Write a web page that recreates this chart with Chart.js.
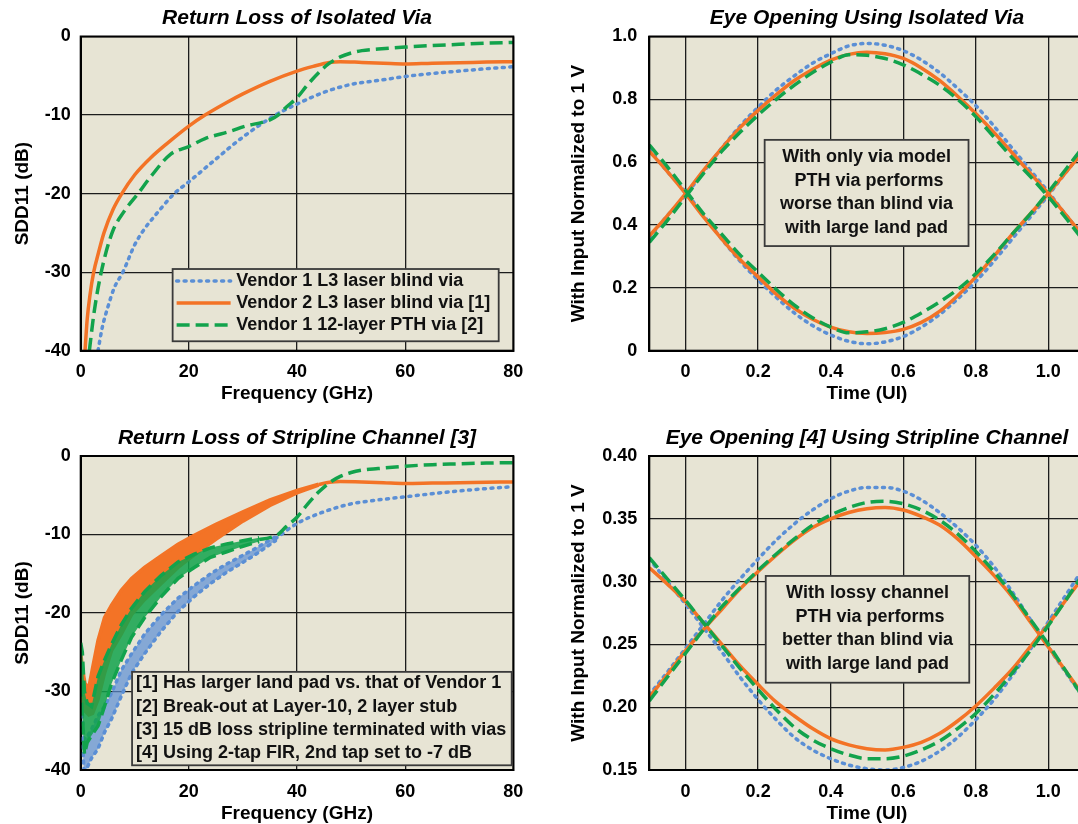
<!DOCTYPE html>
<html>
<head>
<meta charset="utf-8">
<script src="https://cdn.jsdelivr.net/npm/chart.js@4.4.0/dist/chart.umd.min.js"></script>
<style>
  html, body { margin: 0; padding: 0; background: #fff; overflow: hidden; width: 1078px; height: 824px; }
  canvas { position: absolute; }
</style>
</head>
<body>
<canvas id="rlVia" width="540" height="410" style="left:0;top:0"></canvas>
<canvas id="eyeVia" width="560" height="410" style="left:540px;top:0"></canvas>
<canvas id="rlStrip" width="540" height="420" style="left:0;top:410px"></canvas>
<canvas id="eyeStrip" width="560" height="420" style="left:540px;top:410px"></canvas>
<script>
// ---- data ----
const seriesLabels = ['Vendor 1 L3 laser blind via', 'Vendor 2 L3 laser blind via [1]', 'Vendor 1 12-layer PTH via [2]'];

// return loss, isolated via (GHz, dB)
const viaBlueF = [3.2, 4, 5, 6.2, 7.8, 10, 12, 13.5, 17.3, 20, 25, 30, 36, 40, 45, 50, 55, 60, 65, 70, 75, 80];
const viaBlueDb = [-40, -37, -34.5, -32, -30, -26.5, -24.3, -23, -20, -18.5, -15.6, -12.8, -10, -8.6, -7.1, -6.1, -5.6, -5.1, -4.7, -4.4, -4.1, -3.85];
const viaOrangeF = [0.8, 1.2, 1.7, 2.4, 3.3, 4.3, 6, 7.6, 10, 13, 16, 20, 23, 27, 30, 35, 40, 43, 46, 48, 52, 56, 60, 65, 70, 75, 80];
const viaOrangeDb = [-40, -36, -33, -30, -27.5, -25, -22, -20, -17.6, -15.4, -13.6, -11.4, -10, -8.4, -7.3, -5.7, -4.4, -3.8, -3.3, -3.2, -3.3, -3.4, -3.5, -3.4, -3.35, -3.25, -3.2];
const viaGreenF = [1.6, 2.5, 3.8, 5.8, 8, 10.6, 13, 16.6, 20, 23, 28, 30, 35, 36.5, 38, 40, 42, 44, 46, 48, 50, 52, 55, 60, 65, 70, 75, 80];
const viaGreenDb = [-40, -35, -30, -25, -22.3, -20, -17.8, -15, -14, -13, -12, -11.5, -10.6, -10, -9, -7.8, -6.1, -4.6, -3.4, -2.6, -2.1, -1.8, -1.6, -1.35, -1.15, -1.0, -0.85, -0.75];

// return loss, stripline channel: ripple envelopes at low frequency, then the smooth part
const stripOrangeBandF = [0, 0.3, 0.8, 1.5, 2.2, 3.2, 4.4, 5.7, 7.5, 9.4, 11.8, 14.9, 18, 21, 25, 30, 35, 40, 44];
const stripOrangeHi = [-25, -27, -29, -29.5, -27, -23.5, -20.6, -19, -17.1, -15.6, -14.2, -12.7, -11.25, -10.1, -8.7, -7.1, -5.6, -4.4, -3.6];
const stripOrangeLo = [-30, -31.5, -32.5, -33, -32.8, -31, -27.7, -24.8, -22.7, -20.2, -18.3, -16.25, -14.2, -12.6, -10.6, -8.3, -6.3, -4.7, -3.7];
const stripOrangeF = [44, 46, 48, 52, 56, 60, 65, 70, 75, 80];
const stripOrangeDb = [-3.65, -3.35, -3.25, -3.3, -3.4, -3.5, -3.45, -3.4, -3.35, -3.3];

const stripGreenBandF = [0, 0.3, 0.7, 1.2, 2, 3.2, 4.4, 5.7, 7.5, 9.4, 11.8, 14.9, 18, 21, 24, 27, 30, 33];
const stripGreenHi = [-23.8, -25, -30, -31.5, -31.9, -28.1, -26, -24, -21.5, -19.4, -17.3, -15.2, -13.5, -12.5, -11.7, -11.2, -10.8, -10.4];
const stripGreenLo = [-29, -33, -38, -36.5, -35.6, -34.4, -31.9, -29, -26, -23.1, -20.6, -17.9, -15.6, -14.2, -12.9, -12.2, -11.5, -10.9];
const stripGreenF = [33, 35, 36.5, 38, 40, 42, 44, 46, 48, 50, 52, 55, 60, 65, 70, 75, 80];
const stripGreenDb = [-10.65, -10.4, -10, -9, -7.8, -6.1, -4.6, -3.4, -2.6, -2.1, -1.8, -1.6, -1.3, -1.1, -1.0, -0.9, -0.85];

const stripBlueBandF = [0.3, 0.6, 1, 2, 3.2, 4.4, 5.7, 7.5, 9.4, 11.8, 14.9, 18, 21, 24, 27, 32, 36];
const stripBlueHi = [-33, -36, -36, -34.8, -33.1, -31.9, -30.2, -27.3, -25.2, -22.7, -20.2, -18.1, -16.5, -15, -13.75, -11.9, -10.3];
const stripBlueLo = [-36, -40, -40, -38.5, -37.3, -35.2, -33.5, -30.6, -27.7, -25.2, -22.3, -19.8, -17.9, -16.25, -14.8, -12.7, -10.8];
const stripBlueF = [36, 40, 45, 50, 55, 60, 65, 70, 75, 80];
const stripBlueDb = [-10.55, -8.6, -7.1, -6.1, -5.6, -5.2, -4.8, -4.45, -4.15, -3.9];

// eye diagrams (UI, V): rising/falling traces
const eyeT = [-0.1, -0.05, 0, 0.05, 0.1, 0.15, 0.2, 0.25, 0.3, 0.35, 0.4, 0.45, 0.5, 0.55, 0.6, 0.65, 0.7, 0.75, 0.8, 0.85, 0.9, 0.95, 1.0, 1.05, 1.1];

const eyeViaOrangeUp = [0.365, 0.43, 0.50, 0.575, 0.645, 0.71, 0.765, 0.815, 0.86, 0.895, 0.925, 0.943, 0.95, 0.945, 0.93, 0.90, 0.86, 0.81, 0.755, 0.695, 0.63, 0.565, 0.50, 0.43, 0.36];
const eyeViaOrangeDn = [0.635, 0.57, 0.50, 0.425, 0.355, 0.29, 0.235, 0.18, 0.135, 0.10, 0.075, 0.06, 0.055, 0.058, 0.068, 0.09, 0.125, 0.175, 0.235, 0.30, 0.37, 0.435, 0.50, 0.57, 0.64];
const eyeViaBlueUp = [0.36, 0.43, 0.495, 0.57, 0.645, 0.715, 0.775, 0.83, 0.875, 0.915, 0.945, 0.97, 0.978, 0.972, 0.955, 0.925, 0.885, 0.835, 0.78, 0.715, 0.645, 0.575, 0.505, 0.43, 0.36];
const eyeViaBlueDn = [0.64, 0.57, 0.505, 0.43, 0.355, 0.285, 0.225, 0.17, 0.12, 0.08, 0.05, 0.03, 0.022, 0.028, 0.045, 0.075, 0.115, 0.165, 0.22, 0.285, 0.355, 0.425, 0.495, 0.57, 0.64];
const eyeViaGreenUp = [0.345, 0.415, 0.49, 0.565, 0.635, 0.695, 0.75, 0.80, 0.845, 0.885, 0.918, 0.942, 0.94, 0.93, 0.91, 0.88, 0.845, 0.80, 0.745, 0.68, 0.615, 0.555, 0.49, 0.42, 0.345];
const eyeViaGreenDn = [0.655, 0.585, 0.51, 0.435, 0.37, 0.305, 0.25, 0.195, 0.145, 0.105, 0.075, 0.057, 0.06, 0.07, 0.09, 0.12, 0.155, 0.195, 0.245, 0.305, 0.37, 0.435, 0.505, 0.58, 0.655];

const eyeStripOrangeUp = [0.208, 0.226, 0.245, 0.262, 0.278, 0.294, 0.308, 0.321, 0.333, 0.343, 0.350, 0.355, 0.358, 0.359, 0.357, 0.352, 0.345, 0.334, 0.320, 0.305, 0.288, 0.268, 0.248, 0.228, 0.208];
const eyeStripOrangeDn = [0.311, 0.298, 0.284, 0.267, 0.250, 0.233, 0.218, 0.204, 0.193, 0.183, 0.175, 0.170, 0.167, 0.166, 0.168, 0.172, 0.179, 0.189, 0.201, 0.215, 0.230, 0.248, 0.266, 0.286, 0.305];
const eyeStripBlueUp = [0.21, 0.228, 0.247, 0.266, 0.285, 0.302, 0.318, 0.333, 0.346, 0.357, 0.366, 0.372, 0.375, 0.375, 0.372, 0.365, 0.355, 0.343, 0.329, 0.312, 0.292, 0.27, 0.248, 0.227, 0.206];
const eyeStripBlueDn = [0.318, 0.3, 0.282, 0.263, 0.244, 0.224, 0.206, 0.19, 0.176, 0.166, 0.159, 0.154, 0.151, 0.150, 0.152, 0.157, 0.165, 0.176, 0.19, 0.206, 0.225, 0.246, 0.268, 0.29, 0.312];
const eyeStripGreenUp = [0.205, 0.224, 0.243, 0.262, 0.28, 0.295, 0.309, 0.322, 0.334, 0.345, 0.353, 0.359, 0.363, 0.364, 0.362, 0.357, 0.349, 0.338, 0.324, 0.308, 0.29, 0.27, 0.25, 0.228, 0.206];
const eyeStripGreenDn = [0.319, 0.302, 0.285, 0.267, 0.249, 0.231, 0.214, 0.198, 0.184, 0.174, 0.167, 0.162, 0.159, 0.159, 0.161, 0.166, 0.173, 0.183, 0.195, 0.21, 0.227, 0.245, 0.265, 0.286, 0.308];

// ticks
const rlTicksX = [0, 20, 40, 60, 80];
const rlTickLabelsX = ['0', '20', '40', '60', '80'];
const rlTicksY = [-40, -30, -20, -10, 0];
const rlTickLabelsY = ['-40', '-30', '-20', '-10', '0'];
const eyeTicksX = [0, 0.2, 0.4, 0.6, 0.8, 1.0];
const eyeTickLabelsX = ['0', '0.2', '0.4', '0.6', '0.8', '1.0'];
const eyeViaTicksY = [0, 0.2, 0.4, 0.6, 0.8, 1.0];
const eyeViaTickLabelsY = ['0', '0.2', '0.4', '0.6', '0.8', '1.0'];
const eyeStripTicksY = [0.15, 0.20, 0.25, 0.30, 0.35, 0.40];
const eyeStripTickLabelsY = ['0.15', '0.20', '0.25', '0.30', '0.35', '0.40'];

// text blocks
const stripNotes = ['[1] Has larger land pad vs. that of Vendor 1', '[2] Break-out at Layer-10, 2 layer stub', '[3] 15 dB loss stripline terminated with vias', '[4] Using 2-tap FIR, 2nd tap set to -7 dB'];
const viaEyeNote = ['With only via model', ' PTH via performs', 'worse than blind via', 'with large land pad'];
const stripEyeNote = ['With lossy channel', ' PTH via performs', 'better than blind via', 'with large land pad'];

// ---- styling ----
const FONT = '"Liberation Sans", Arial, Helvetica, sans-serif';
const BG = '#e7e4d4';
Chart.defaults.font.family = FONT;
Chart.defaults.font.weight = 'bold';
Chart.defaults.color = '#000';

const BLUE = '#5b8fd5', ORANGE = '#f37326', GREEN = '#12a34c';
const blueStyle = { borderColor: BLUE, borderWidth: 3.5, borderDash: [2, 5.5], borderCapStyle: 'round', order: 2 };
const orangeStyle = { borderColor: ORANGE, borderWidth: 3.5, borderDash: [], order: 1 };
const greenStyle = { borderColor: GREEN, borderWidth: 3.5, borderDash: [13, 6], order: 0 };

const pts = (xs, ys) => xs.map((x, i) => ({ x: x, y: ys[i] }));

function line(label, xs, ys, style, extra) {
  return Object.assign({
    label: label, data: pts(xs, ys), pointRadius: 0, fill: false,
    cubicInterpolationMode: 'monotone'
  }, style, extra || {});
}

function scales(o) {
  return {
    x: {
      type: 'linear', min: o.xmin, max: o.xmax,
      afterBuildTicks: s => { s.ticks = o.xt.map(v => ({ value: v })); },
      afterFit: s => { s.height = o.xh; },
      grid: { color: '#1c1c1c', lineWidth: 1.3, drawTicks: false },
      border: { color: '#000', width: 2 },
      ticks: { padding: 11, autoSkip: false, maxRotation: 0, color: '#000', font: { size: 18, weight: 'bold' }, callback: (v, i) => o.xl[i] },
      title: { display: true, text: o.xTitle, color: '#000', font: { size: 19, weight: 'bold' }, padding: 4.6 }
    },
    y: {
      type: 'linear', min: o.ymin, max: o.ymax,
      afterBuildTicks: s => { s.ticks = o.yt.map(v => ({ value: v })); },
      afterFit: s => { s.width = o.yw; },
      grid: { color: '#1c1c1c', lineWidth: 1.3, drawTicks: false },
      border: { color: '#000', width: 2 },
      ticks: { padding: o.ypad, autoSkip: false, color: '#000', font: { size: 18, weight: 'bold' }, callback: (v, i) => o.yl[i] },
      title: { display: true, text: o.yTitle, color: '#000', font: { size: 19, weight: 'bold' }, padding: o.ytp }
    }
  };
}

function titleOpts(text, top, bottom) {
  return { display: true, text: text, fullSize: false, color: '#000', font: { size: 21, weight: 'bold', style: 'italic' }, padding: { top: top, bottom: bottom } };
}

// plot background and frame
const framePlugin = {
  id: 'frame',
  beforeDraw(chart) {
    const a = chart.chartArea, ctx = chart.ctx;
    ctx.save();
    ctx.fillStyle = BG;
    ctx.fillRect(a.left, a.top, a.right - a.left, a.bottom - a.top);
    ctx.restore();
  },
  afterDatasetsDraw(chart) {
    const a = chart.chartArea, ctx = chart.ctx;
    ctx.save();
    ctx.strokeStyle = '#000';
    ctx.lineWidth = 2;
    ctx.strokeRect(a.left, a.top, a.right - a.left, a.bottom - a.top);
    ctx.restore();
  }
};

// boxed text (legend / notes), anchored in data coordinates
function boxPlugin(cfg) {
  return {
    id: 'noteBox',
    afterDraw(chart) {
      const ctx = chart.ctx, sx = chart.scales.x, sy = chart.scales.y;
      const l = sx.getPixelForValue(cfg.x0), r = sx.getPixelForValue(cfg.x1);
      const t = sy.getPixelForValue(cfg.y0), b = sy.getPixelForValue(cfg.y1);
      ctx.save();
      ctx.setLineDash([]);
      ctx.fillStyle = BG;
      ctx.fillRect(l, t, r - l, b - t);
      ctx.strokeStyle = '#3a3a3a';
      ctx.lineWidth = 1.8;
      ctx.strokeRect(l, t, r - l, b - t);
      ctx.font = 'bold 18px ' + FONT;
      ctx.textBaseline = 'middle';
      cfg.lines.forEach((txt, i) => {
        const ty = t + cfg.first + i * cfg.step;
        if (cfg.samples) {
          const ds = chart.data.datasets[cfg.samples[i]];
          ctx.save();
          ctx.strokeStyle = ds.borderColor;
          ctx.lineWidth = ds.borderWidth;
          ctx.lineCap = ds.borderCapStyle || 'butt';
          ctx.setLineDash(ds.borderDash || []);
          ctx.beginPath();
          ctx.moveTo(l + 4, ty);
          ctx.lineTo(l + 58, ty);
          ctx.stroke();
          ctx.restore();
        }
        ctx.fillStyle = '#111';
        if (cfg.align === 'center') {
          ctx.textAlign = 'center';
          ctx.fillText(txt, (l + r) / 2, ty);
        } else {
          ctx.textAlign = 'left';
          ctx.fillText(txt, l + cfg.textX, ty);
        }
      });
      ctx.restore();
    }
  };
}

const common = {
  responsive: false, animation: false, devicePixelRatio: 1,
  plugins: { legend: { display: false }, tooltip: { enabled: false } }
};

// ---- top left: return loss of isolated via ----
new Chart(document.getElementById('rlVia'), {
  type: 'line',
  data: {
    datasets: [
      line(seriesLabels[0], viaBlueF, viaBlueDb, blueStyle),
      line(seriesLabels[1], viaOrangeF, viaOrangeDb, orangeStyle),
      line(seriesLabels[2], viaGreenF, viaGreenDb, greenStyle)
    ]
  },
  options: Object.assign({}, common, {
    layout: { padding: { left: 0, right: 26.7, top: 0, bottom: 0 } },
    scales: scales({ xmin: 0, xmax: 80, xt: rlTicksX, xl: rlTickLabelsX, xh: 59.3, xTitle: 'Frequency (GHz)',
      ymin: -40, ymax: 0, yt: rlTicksY, yl: rlTickLabelsY, yw: 80.7, ypad: 10, ytp: 11.6, yTitle: 'SDD11 (dB)' }),
    plugins: Object.assign({}, common.plugins, { title: titleOpts('Return Loss of Isolated Via', 5.5, 5.8) })
  }),
  plugins: [framePlugin, boxPlugin({ x0: 17, x1: 77.3, y0: -29.6, y1: -38.8, lines: seriesLabels, samples: [0, 1, 2], first: 12, step: 22, textX: 63.5 })]
});

// ---- top right: eye opening using isolated via ----
function eyeSets(up, dn, style, label) {
  return [line(label, eyeT, up, style), line(label, eyeT, dn, style)];
}

new Chart(document.getElementById('eyeVia'), {
  type: 'line',
  data: {
    datasets: [].concat(
      eyeSets(eyeViaBlueUp, eyeViaBlueDn, blueStyle, seriesLabels[0]),
      eyeSets(eyeViaOrangeUp, eyeViaOrangeDn, orangeStyle, seriesLabels[1]),
      eyeSets(eyeViaGreenUp, eyeViaGreenDn, greenStyle, seriesLabels[2])
    )
  },
  options: Object.assign({}, common, {
    layout: { padding: { left: 0, right: 15.4, top: 0, bottom: 0 } },
    scales: scales({ xmin: -0.1, xmax: 1.1, xt: eyeTicksX, xl: eyeTickLabelsX, xh: 59.3, xTitle: 'Time (UI)',
      ymin: 0, ymax: 1.0, yt: eyeViaTicksY, yl: eyeViaTickLabelsY, yw: 109.3, ypad: 12, ytp: 27.6, yTitle: 'With Input Normalized to 1 V' }),
    plugins: Object.assign({}, common.plugins, { title: titleOpts('Eye Opening Using Isolated Via', 5.5, 5.8) })
  }),
  plugins: [framePlugin, boxPlugin({ x0: 0.218, x1: 0.78, y0: 0.671, y1: 0.333, lines: viaEyeNote, align: 'center', first: 17.5, step: 23.4 })]
});

// ---- bottom left: return loss of stripline channel ----
function band(label, xs, hi, lo, style, alpha) {
  const fillColor = Chart.helpers.color(style.borderColor).alpha(alpha).rgbString();
  return [
    line(label, xs, hi, style, { cubicInterpolationMode: 'default', tension: 0 }),
    line(label, xs, lo, style, { cubicInterpolationMode: 'default', tension: 0, fill: '-1', backgroundColor: fillColor })
  ];
}

new Chart(document.getElementById('rlStrip'), {
  type: 'line',
  data: {
    datasets: [].concat(
      band(seriesLabels[0], stripBlueBandF, stripBlueHi, stripBlueLo, blueStyle, 0.7),
      [line(seriesLabels[0], stripBlueF, stripBlueDb, blueStyle)],
      band(seriesLabels[1], stripOrangeBandF, stripOrangeHi, stripOrangeLo, orangeStyle, 1),
      [line(seriesLabels[1], stripOrangeF, stripOrangeDb, orangeStyle)],
      band(seriesLabels[2], stripGreenBandF, stripGreenHi, stripGreenLo, greenStyle, 0.85),
      [line(seriesLabels[2], stripGreenF, stripGreenDb, greenStyle)]
    )
  },
  options: Object.assign({}, common, {
    layout: { padding: { left: 0, right: 26.7, top: 0, bottom: 0 } },
    scales: scales({ xmin: 0, xmax: 80, xt: rlTicksX, xl: rlTickLabelsX, xh: 60, xTitle: 'Frequency (GHz)',
      ymin: -40, ymax: 0, yt: rlTicksY, yl: rlTickLabelsY, yw: 80.7, ypad: 10, ytp: 11.6, yTitle: 'SDD11 (dB)' }),
    plugins: Object.assign({}, common.plugins, { title: titleOpts('Return Loss of Stripline Channel [3]', 15.4, 5.4) })
  }),
  plugins: [framePlugin, boxPlugin({ x0: 9.5, x1: 79.7, y0: -27.5, y1: -39.4, lines: stripNotes, first: 11.5, step: 23.3, textX: 4 })]
});

// ---- bottom right: eye opening using stripline channel ----
new Chart(document.getElementById('eyeStrip'), {
  type: 'line',
  data: {
    datasets: [].concat(
      eyeSets(eyeStripBlueUp, eyeStripBlueDn, blueStyle, seriesLabels[0]),
      eyeSets(eyeStripOrangeUp, eyeStripOrangeDn, orangeStyle, seriesLabels[1]),
      eyeSets(eyeStripGreenUp, eyeStripGreenDn, greenStyle, seriesLabels[2])
    )
  },
  options: Object.assign({}, common, {
    layout: { padding: { left: 0, right: 15.4, top: 0, bottom: 0 } },
    scales: scales({ xmin: -0.1, xmax: 1.1, xt: eyeTicksX, xl: eyeTickLabelsX, xh: 60, xTitle: 'Time (UI)',
      ymin: 0.15, ymax: 0.40, yt: eyeStripTicksY, yl: eyeStripTickLabelsY, yw: 109.3, ypad: 12, ytp: 27.6, yTitle: 'With Input Normalized to 1 V' }),
    plugins: Object.assign({}, common.plugins, { title: titleOpts('Eye Opening [4] Using Stripline Channel', 15.4, 5.4) })
  }),
  plugins: [framePlugin, boxPlugin({ x0: 0.221, x1: 0.782, y0: 0.3045, y1: 0.2195, lines: stripEyeNote, align: 'center', first: 17.5, step: 23.4 })]
});
</script>
